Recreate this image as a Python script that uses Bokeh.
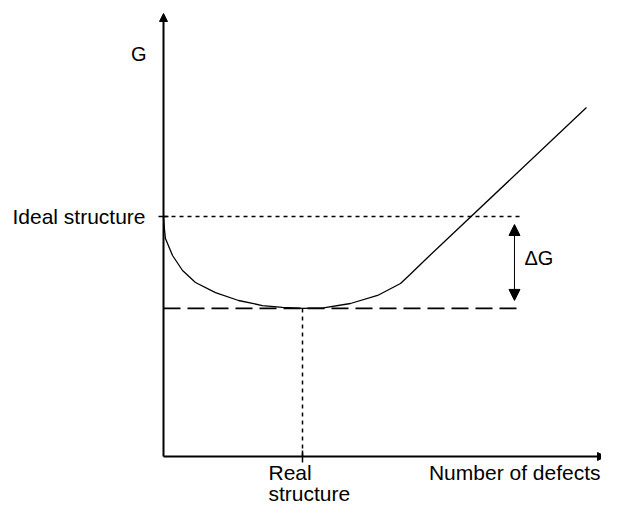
from bokeh.plotting import figure
from bokeh.models import Range1d, Arrow, NormalHead, Label
from bokeh.embed import file_html
from bokeh.resources import INLINE
import math

# ---- data (arbitrary units) ----
n_curve = [0.0, 0.007, 0.014, 0.065, 0.137, 0.230, 0.374, 0.540, 0.712, 0.856, 1.0,
           1.151, 1.345, 1.540, 1.705, 1.774, 1.878, 3.043]
G_curve = [1.0, 0.946, 0.908, 0.8375, 0.775, 0.725, 0.683, 0.650, 0.629, 0.621, 0.617,
           0.619, 0.6375, 0.671, 0.721, 0.758, 0.817, 1.454]
G_ideal = 1.0
G_min = 0.617
n_real = 1.0
n_ref_end = 2.59      # end of the reference lines
n_dG = 2.525          # position of the delta-G arrow
n_axis_end = 3.18
G_axis_end = 1.846

labels = {"G": "G", "ideal": "Ideal structure", "dG": "\u0394G",
          "xlab": "Number of defects", "real1": "Real", "real2": "structure"}

# ---- layout: map data to pixels ----
W, H = 601, 504
PX_N, PX_G = 139.0, 240.0
ORIG_X, ORIG_Y = 163, 456   # origin in figure pixels

p = figure(width=W, height=H, output_backend="svg", toolbar_location=None,
           x_axis_type=None, y_axis_type=None, min_border=0,
           x_range=Range1d(-ORIG_X / PX_N, (W - ORIG_X) / PX_N),
           y_range=Range1d(-(H - ORIG_Y) / PX_G, ORIG_Y / PX_G))
p.outline_line_color = None
p.grid.visible = False
p.background_fill_color = "white"
p.border_fill_color = "white"

FONT = "Liberation Sans"

# axes with arrows
p.add_layout(Arrow(end=NormalHead(size=8, fill_color="black", line_color="black"),
                   x_start=0, y_start=0, x_end=0, y_end=G_axis_end,
                   line_width=2, line_color="black"))
p.add_layout(Arrow(end=NormalHead(size=8, fill_color="black", line_color="black"),
                   x_start=0, y_start=0, x_end=n_axis_end, y_end=0,
                   line_width=2, line_color="black"))

# ticks
p.scatter([0], [G_ideal], marker="dash", size=10, line_color="black", line_width=1.5)
p.scatter([n_real], [0], marker="dash", size=12, angle=math.pi / 2,
          line_color="black", line_width=1.5)

# reference lines
p.line([0, n_ref_end], [G_ideal, G_ideal], line_color="black", line_width=1.5,
       line_dash="4 4")
p.line([0, n_ref_end], [G_min, G_min], line_color="black", line_width=1.8,
       line_dash="17 7")
p.line([n_real, n_real], [0, G_min], line_color="black", line_width=1.5,
       line_dash="4 4")

# curve
p.line(n_curve, G_curve, line_color="black", line_width=1.3)

# delta-G arrow
gap = 8 / PX_G
p.add_layout(Arrow(start=NormalHead(size=11, fill_color="black", line_color="black"),
                   end=NormalHead(size=11, fill_color="black", line_color="black"),
                   x_start=n_dG, y_start=G_min + gap, x_end=n_dG, y_end=G_ideal - gap,
                   line_width=1, line_color="black"))

# texts
def lab(text, x, y, xo, yo, align, base, size="21px"):
    p.add_layout(Label(x=x, y=y, x_offset=xo, y_offset=yo, text=text,
                       text_align=align, text_baseline=base,
                       text_font=FONT, text_font_size=size, text_color="black"))

lab(labels["G"], 0, G_axis_end, -17, -41, "right", "alphabetic", "20px")
lab(labels["ideal"], 0, G_ideal, -18, 0, "right", "middle")
lab(labels["dG"], n_dG, (G_ideal + G_min) / 2, 10, 4, "left", "middle", "20px")
lab(labels["xlab"], n_axis_end, 0, -5, -16, "right", "alphabetic")
lab(labels["real1"], n_real, 0, -34, -16, "left", "alphabetic")
lab(labels["real2"], n_real, 0, -34, -37, "left", "alphabetic")

open("out.html", "w").write(file_html(p, INLINE))
